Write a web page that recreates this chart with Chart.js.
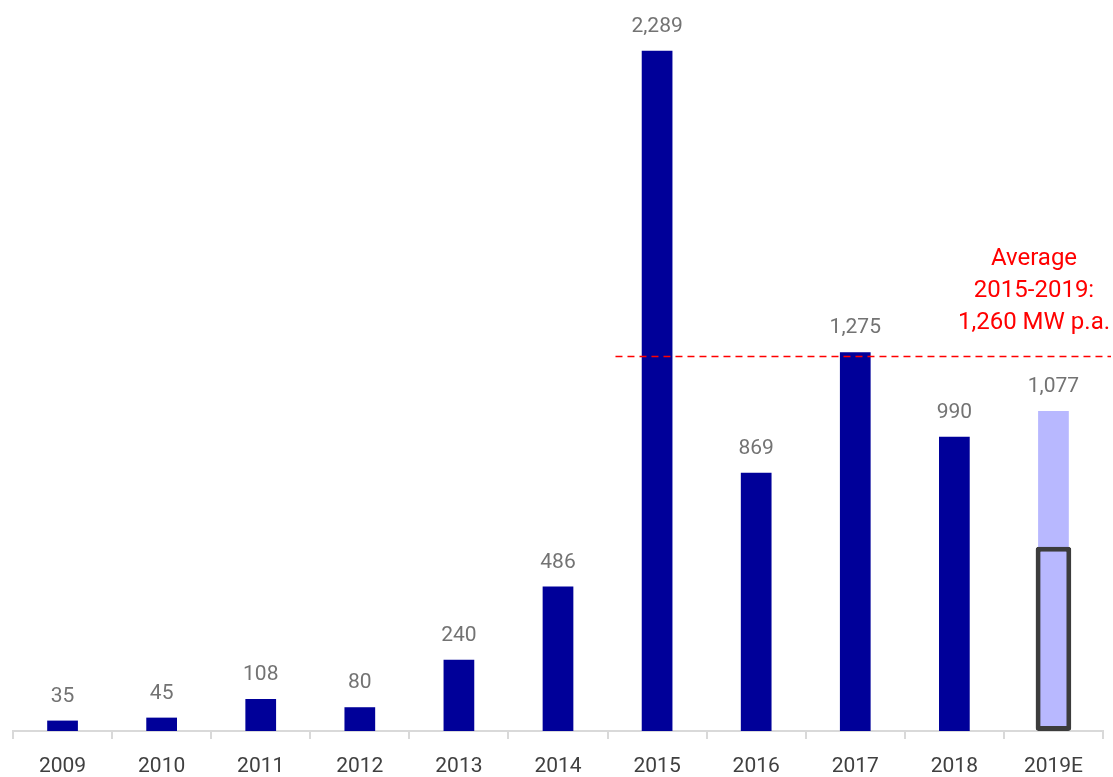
<!DOCTYPE html>
<html>
<head>
<meta charset="utf-8">
<script src="https://cdn.jsdelivr.net/npm/chart.js@4/dist/chart.umd.min.js"></script>
<style>
  html, body { margin: 0; padding: 0; background: #fff; }
  #wrap { width: 1113px; height: 777px; }
</style>
</head>
<body>
<div id="wrap"><canvas id="mwChart"></canvas></div>
<script>
(function() {
    'use strict';

    // Installed capacity per year (MW)
    const years = ['2009', '2010', '2011', '2012', '2013', '2014', '2015', '2016', '2017', '2018', '2019E'];
    const installed = [35, 45, 108, 80, 240, 486, 2289, 869, 1275, 990, 1077];
    // Part of the 2019 estimate that is already secured
    const secured = [null, null, null, null, null, null, null, null, null, null, 620];
    const average = 1260;
    const averageFrom = '2015';
    const averageText = ['Average', '2015-2019:', '1,260 MW p.a.'];

    const navy = '#000099';
    const lavender = '#b8b8ff';
    const barColors = years.map(y => y.endsWith('E') ? lavender : navy);

    const fmt = v => v.toLocaleString('en-US');
    const FONT = 'Roboto, "DejaVu Sans", sans-serif';

    // Value labels above the main bars
    const valueLabels = {
        id: 'valueLabels',
        afterDatasetsDraw(chart) {
            const ctx = chart.ctx;
            const meta = chart.getDatasetMeta(0);
            ctx.save();
            ctx.font = '21px ' + FONT;
            ctx.fillStyle = '#737373';
            ctx.textAlign = 'center';
            ctx.textBaseline = 'alphabetic';
            meta.data.forEach((bar, i) => {
                ctx.fillText(fmt(installed[i]), bar.x, bar.y - 19);
            });
            ctx.restore();
        }
    };

    // Dashed average line with its caption
    const averageLine = {
        id: 'averageLine',
        afterDatasetsDraw(chart) {
            const ctx = chart.ctx;
            const x = chart.scales.x;
            const y = chart.scales.y;
            const step = x.getPixelForValue(1) - x.getPixelForValue(0);
            const x0 = x.getPixelForValue(years.indexOf(averageFrom)) - step * 0.42;
            const x1 = chart.width - 2;
            const py = y.getPixelForValue(average);
            ctx.save();
            ctx.strokeStyle = '#ff0000';
            ctx.lineWidth = 1.5;
            ctx.setLineDash([7, 5]);
            ctx.beginPath();
            ctx.moveTo(x0, py);
            ctx.lineTo(x1, py);
            ctx.stroke();
            ctx.setLineDash([]);
            ctx.font = '24px ' + FONT;
            ctx.fillStyle = '#ff0000';
            ctx.textAlign = 'center';
            ctx.textBaseline = 'middle';
            const cx = 1034;
            averageText.forEach((line, i) => {
                ctx.fillText(line, cx, py - 98 + i * 32);
            });
            ctx.restore();
        }
    };

    new Chart(document.getElementById('mwChart'), {
        type: 'bar',
        data: {
            labels: years,
            datasets: [{
                label: 'Installed',
                data: installed,
                backgroundColor: barColors,
                barPercentage: 0.31,
                categoryPercentage: 1,
                grouped: false,
                order: 2
            }, {
                label: 'Secured',
                data: secured,
                backgroundColor: lavender,
                borderColor: '#3c3c3c',
                borderWidth: 5,
                borderRadius: 3,
                borderSkipped: false,
                barPercentage: 0.36,
                categoryPercentage: 1,
                grouped: false,
                order: 1
            }]
        },
        options: {
            responsive: true,
            maintainAspectRatio: false,
            animation: false,
            layout: { padding: { left: 13, right: 10, top: 0, bottom: 0 } },
            plugins: {
                legend: { display: false },
                tooltip: { enabled: false }
            },
            scales: {
                x: {
                    offset: true,
                    afterFit(scale) { scale.height = 46; },
                    grid: {
                        offset: true,
                        drawOnChartArea: false,
                        drawTicks: true,
                        tickLength: 8,
                        color: '#d9d9d9',
                        lineWidth: 2
                    },
                    border: { color: '#d9d9d9', width: 2 },
                    ticks: {
                        color: '#404040',
                        font: { family: FONT, size: 21 },
                        padding: 15,
                        maxRotation: 0
                    }
                },
                y: {
                    display: false,
                    min: 0,
                    max: 2460
                }
            }
        },
        plugins: [valueLabels, averageLine]
    });
})();
</script>
</body>
</html>
